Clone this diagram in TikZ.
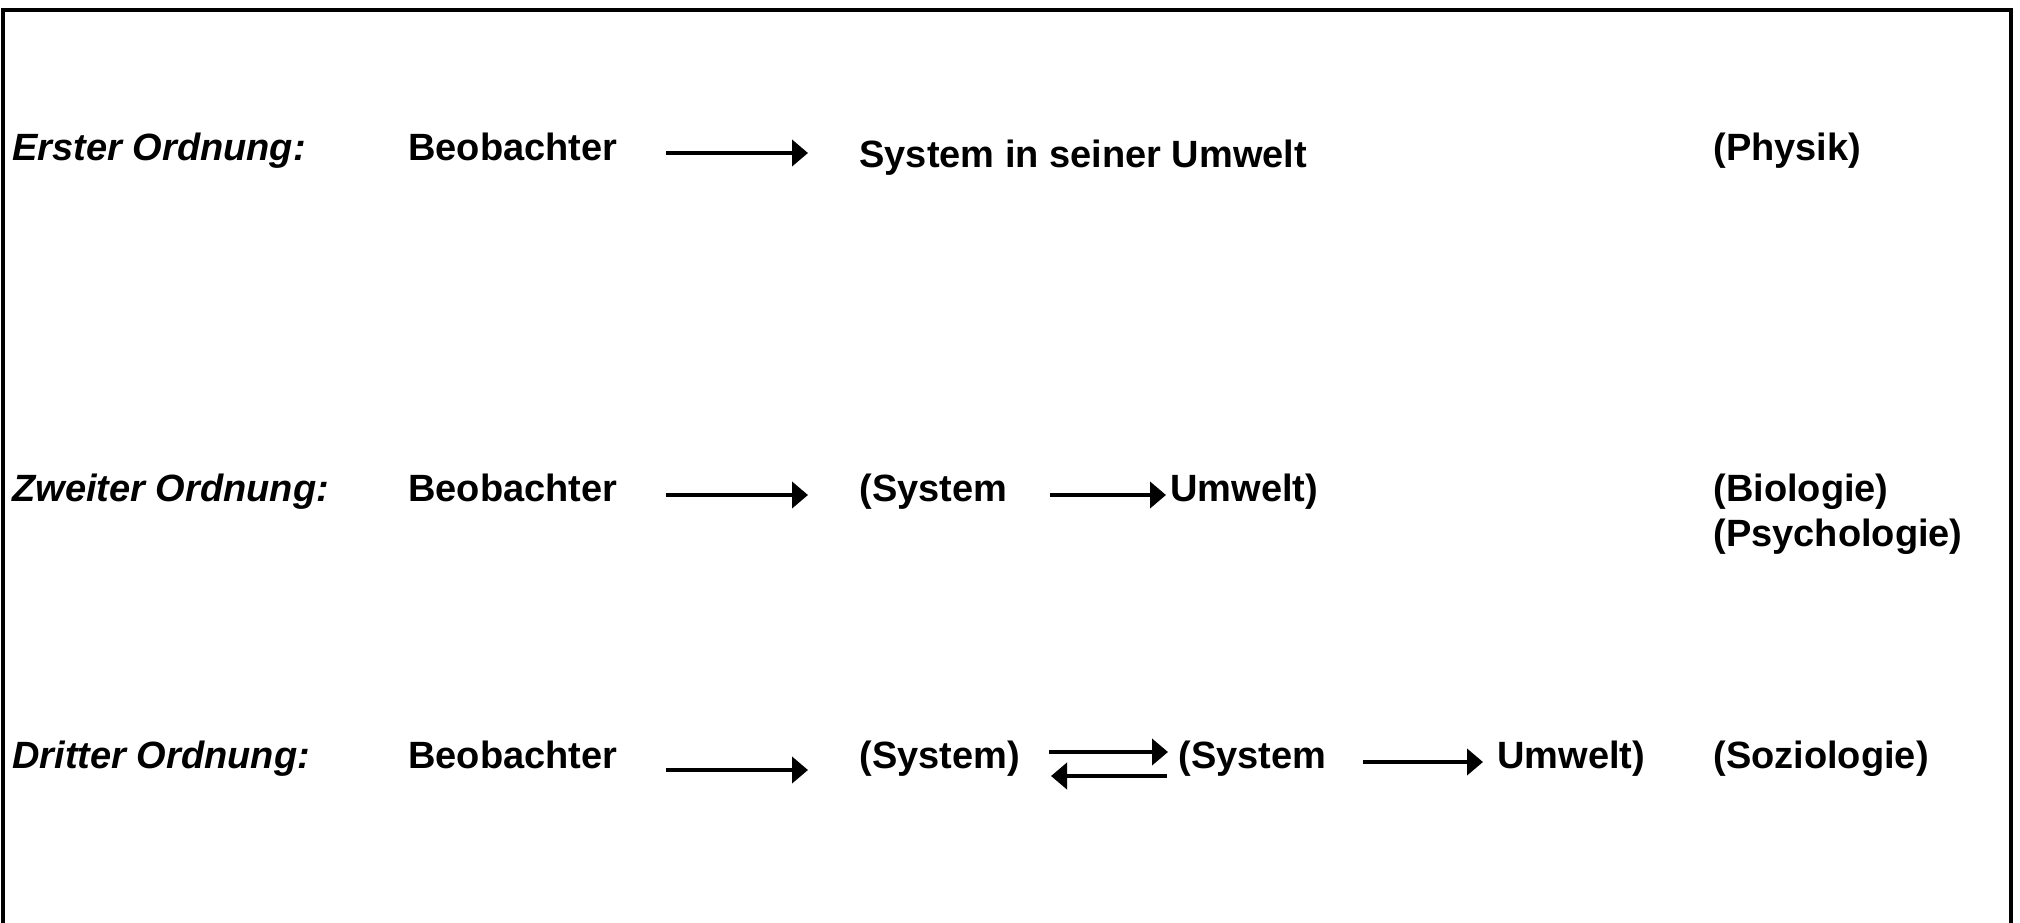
\documentclass[tikz,border=0pt]{standalone}
\usepackage{fontspec}
\setmainfont{Liberation Sans}
\usetikzlibrary{arrows.meta}
\begin{document}
\begin{tikzpicture}[x=0.5pt,y=-0.5pt,
  txt/.style={anchor=base west,inner sep=0pt,font=\fontsize{19}{22}\selectfont\bfseries},
  lbl/.style={txt,font=\fontsize{19}{22}\selectfont\bfseries\itshape},
  arr/.style={line width=2pt,-{Triangle[length=8pt,width=13pt]}}]
\useasboundingbox (0,0) rectangle (2020,922);
\fill[white] (0,0) rectangle (2020,922);
\draw[line width=2pt] (3,940) -- (3,10) -- (2011,10) -- (2011,940);
% row 1
\node[lbl] (l1) at (12,160) {Erster Ordnung:};
\node[txt] (b1) at (408,160) {Beobachter};
\node[txt] (s1) at (859,167) {System in seiner Umwelt};
\node[txt] (p1) at (1713,160) {(Physik)};
\coordinate (a1s) at (666,153);
\coordinate (a1e) at (808,153);
\draw[arr] (a1s) -- (a1e);
% row 2
\node[lbl] (l2) at (12,501) {Zweiter Ordnung:};
\node[txt] (b2) at (408,501) {Beobachter};
\node[txt] (s2) at (859,501) {(System};
\node[txt] (u2) at (1170,501) {Umwelt)};
\node[txt] (p2) at (1713,501) {(Biologie)};
\node[txt] (p2b) at (1713,546) {(Psychologie)};
\coordinate (a2s) at (666,495);
\coordinate (a2e) at (808,495);
\coordinate (a3s) at (1050,495);
\coordinate (a3e) at (1166,495);
\draw[arr] (a2s) -- (a2e);
\draw[arr] (a3s) -- (a3e);
% row 3
\node[lbl] (l3) at (12,768) {Dritter Ordnung:};
\node[txt] (b3) at (408,768) {Beobachter};
\node[txt] (s3) at (859,768) {(System)};
\node[txt] (s3b) at (1178,768) {(System};
\node[txt] (u3) at (1497,768) {Umwelt)};
\node[txt] (p3) at (1713,768) {(Soziologie)};
\coordinate (a4s) at (666,770);
\coordinate (a4e) at (808,770);
\coordinate (a5s) at (1049,752);
\coordinate (a5e) at (1168,752);
\coordinate (a6s) at (1167,776);
\coordinate (a6e) at (1051,776);
\coordinate (a7s) at (1363,762);
\coordinate (a7e) at (1483,762);
\draw[arr] (a4s) -- (a4e);
\draw[arr] (a5s) -- (a5e);
\draw[arr] (a6s) -- (a6e);
\draw[arr] (a7s) -- (a7e);
\end{tikzpicture}
\end{document}
